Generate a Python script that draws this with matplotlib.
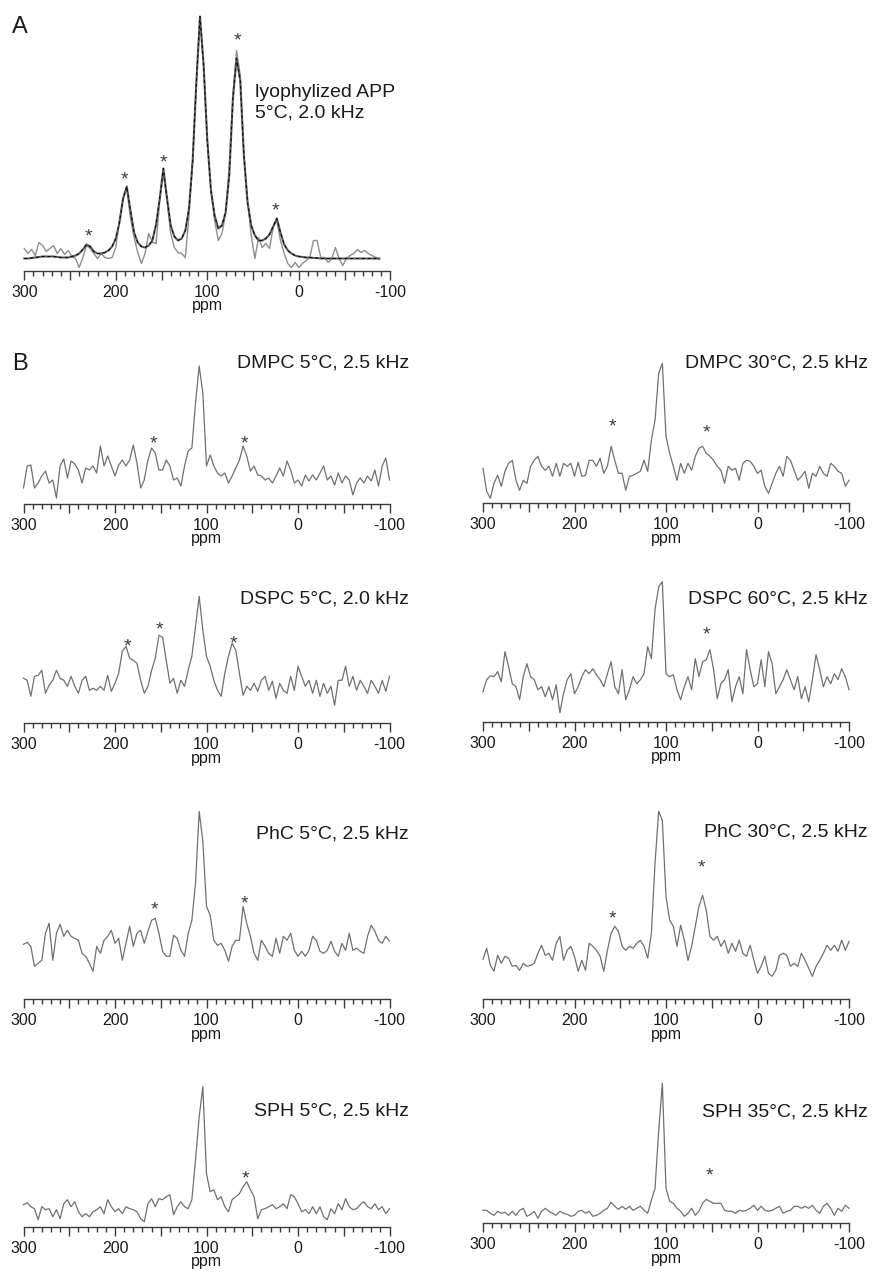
import matplotlib
matplotlib.use('Agg')
import matplotlib.pyplot as plt
from matplotlib.ticker import MultipleLocator, FuncFormatter
import numpy as np

plt.rcParams['font.family'] = ['Liberation Sans', 'DejaVu Sans']
plt.rcParams['axes.unicode_minus'] = False

W, H = 872, 1272  # figure size in pixels (dpi 100)

# chemical shift grids (ppm), 4 ppm spacing
ppm_a = np.arange(300, -89, -4)
ppm_b = np.arange(300, -101, -4)

# --- A: lyophylized APP, experimental spectrum and spinning-sideband fit ---
app_exp = [22, 17, 21, 15, 28, 25, 19, 22, 25, 17,
           22, 16, 20, 14, 12, 3, 13, 25, 22, 17,
           12, 17, 13, 12, 13, 23, 50, 73, 82, 53,
           33, 18, 7, 17, 37, 28, 27, 70, 98, 70,
           37, 23, 18, 17, 13, 55, 110, 185, 253, 205,
           130, 80, 50, 30, 37, 57, 105, 175, 220, 195,
           115, 70, 35, 12, 33, 23, 27, 22, 43, 50,
           30, 17, 7, 3, 8, 3, 7, 10, 13, 30,
           30, 13, 13, 8, 12, 23, 12, 5, 12, 15,
           17, 21, 18, 20, 17, 15, 13, 11]
app_fit = [12, 12, 12.5, 13, 13.5, 14, 14, 14, 14, 13.5,
           13, 13, 13, 14, 15, 17, 21, 26, 24, 19,
           17, 17, 18, 20, 24, 32, 48, 72, 84, 60,
           38, 28, 24, 23, 25, 30, 46, 72, 102, 72,
           45, 34, 30, 32, 40, 62, 110, 188, 254, 205,
           130, 80, 55, 42, 45, 58, 95, 172, 212, 190,
           115, 68, 45, 35, 30, 30, 32, 36, 44, 52,
           38, 26, 20, 17, 15, 14, 13.5, 13, 13, 12.5,
           12.5, 12, 12, 12, 12, 12, 12, 12, 12, 12,
           12, 12, 12, 12, 12, 12, 12, 12]
app_star_ppm = [230, 190, 148, 67, 25]
app_star_h = [40, 97, 114, 236, 66]

# --- B: APP in lipid vesicles ---
dmpc5 = [16, 38, 39, 16, 21, 28, 33, 21, 24, 6,
         38, 45, 26, 43, 40, 34, 21, 36, 34, 38,
         31, 58, 38, 48, 38, 28, 39, 44, 38, 44,
         59, 41, 16, 24, 44, 56, 51, 34, 34, 44,
         38, 24, 26, 18, 38, 53, 56, 101, 138, 111,
         38, 49, 38, 31, 28, 31, 21, 28, 36, 44,
         58, 48, 33, 38, 29, 28, 24, 26, 21, 28,
         36, 28, 43, 34, 21, 24, 18, 29, 23, 29,
         24, 31, 38, 24, 28, 19, 31, 21, 28, 24,
         9, 21, 26, 21, 28, 23, 34, 18, 38, 46,
         24]
dmpc30 = [35, 12, 5, 20, 28, 17, 32, 40, 43, 23,
          13, 23, 20, 37, 43, 47, 37, 33, 37, 27,
          40, 27, 40, 37, 40, 27, 41, 27, 28, 43,
          43, 37, 45, 30, 37, 57, 43, 30, 30, 13,
          27, 28, 30, 32, 43, 32, 63, 83, 130, 140,
          67, 50, 37, 23, 40, 30, 40, 33, 47, 55,
          57, 50, 47, 43, 37, 33, 20, 37, 33, 35,
          23, 40, 43, 42, 37, 30, 33, 17, 10, 20,
          30, 37, 27, 47, 43, 33, 23, 27, 32, 15,
          30, 27, 37, 30, 27, 40, 37, 32, 30, 17,
          23]
dspc5 = [45, 43, 27, 47, 48, 53, 30, 38, 43, 53,
         45, 43, 37, 47, 37, 30, 43, 47, 33, 35,
         33, 37, 33, 48, 32, 40, 50, 72, 77, 65,
         63, 60, 43, 30, 37, 53, 65, 88, 86, 63,
         40, 45, 30, 43, 37, 53, 67, 97, 127, 93,
         67, 57, 43, 33, 27, 50, 67, 80, 73, 50,
         28, 37, 33, 40, 32, 43, 47, 33, 42, 25,
         40, 33, 30, 47, 33, 57, 47, 37, 43, 30,
         43, 27, 40, 30, 37, 18, 43, 43, 57, 37,
         47, 33, 43, 37, 30, 43, 37, 30, 43, 32,
         47]
dspc60 = [30, 42, 46, 45, 50, 40, 70, 55, 38, 35,
          22, 45, 58, 45, 42, 32, 35, 25, 35, 22,
          37, 9, 28, 42, 48, 28, 35, 45, 52, 48,
          53, 47, 42, 35, 48, 60, 35, 28, 52, 22,
          32, 45, 38, 42, 48, 75, 63, 112, 135, 140,
          48, 45, 47, 32, 22, 35, 45, 32, 63, 45,
          60, 62, 72, 52, 23, 38, 42, 52, 20, 35,
          45, 28, 72, 52, 35, 38, 62, 35, 70, 58,
          28, 35, 42, 52, 42, 32, 45, 23, 35, 20,
          42, 67, 52, 35, 45, 38, 48, 42, 53, 45,
          32]
phc5 = [55, 57, 53, 33, 36, 39, 66, 76, 39, 66,
        75, 63, 69, 63, 61, 59, 46, 43, 36, 28,
        53, 46, 59, 63, 69, 56, 61, 39, 56, 73,
        53, 66, 69, 56, 68, 79, 81, 66, 48, 43,
        43, 64, 61, 49, 43, 66, 79, 116, 188, 158,
        93, 84, 59, 54, 56, 49, 38, 53, 59, 59,
        93, 76, 63, 46, 39, 59, 53, 46, 43, 61,
        46, 63, 59, 66, 49, 43, 48, 43, 49, 63,
        59, 48, 46, 49, 58, 48, 43, 56, 49, 66,
        49, 51, 48, 46, 63, 74, 68, 59, 56, 63,
        58]
phc30 = [40, 51, 34, 28, 44, 36, 43, 41, 33, 34,
         29, 36, 33, 34, 36, 46, 54, 44, 46, 39,
         56, 63, 39, 49, 53, 43, 28, 39, 29, 56,
         53, 49, 43, 28, 49, 66, 73, 68, 53, 49,
         53, 51, 56, 59, 53, 41, 66, 136, 188, 179,
         103, 79, 73, 53, 74, 59, 39, 53, 73, 93,
         104, 89, 63, 59, 63, 53, 59, 46, 56, 48,
         59, 46, 43, 54, 39, 26, 33, 43, 26, 23,
         29, 44, 46, 44, 33, 36, 33, 46, 39, 31,
         23, 33, 39, 46, 54, 49, 54, 48, 59, 49,
         58]
sph5 = [22, 24, 20, 18, 7, 20, 17, 18, 10, 17,
        8, 23, 27, 20, 25, 15, 10, 13, 10, 15,
        17, 20, 13, 27, 20, 15, 18, 13, 20, 18,
        17, 15, 8, 5, 23, 28, 20, 28, 27, 30,
        32, 12, 20, 25, 20, 18, 27, 67, 110, 140,
        53, 35, 37, 27, 30, 20, 15, 27, 30, 33,
        40, 45, 37, 30, 8, 17, 18, 20, 22, 18,
        20, 23, 18, 32, 30, 23, 15, 17, 13, 20,
        13, 20, 10, 7, 18, 13, 23, 17, 28, 20,
        17, 18, 22, 25, 20, 18, 23, 17, 20, 13,
        18]
sph35 = [13, 13, 10, 8, 12, 10, 11, 8, 12, 8,
         13, 15, 7, 9, 12, 5, 12, 15, 12, 10,
         8, 12, 10, 9, 7, 8, 12, 13, 10, 12,
         7, 8, 10, 13, 15, 21, 17, 14, 17, 14,
         17, 13, 15, 17, 13, 10, 23, 35, 92, 140,
         35, 22, 20, 15, 12, 7, 10, 15, 8, 12,
         20, 24, 22, 20, 20, 20, 13, 12, 12, 10,
         13, 12, 13, 15, 18, 13, 17, 13, 12, 13,
         15, 17, 10, 12, 13, 17, 17, 15, 17, 15,
         18, 13, 10, 17, 20, 15, 8, 15, 12, 18,
         15]

labels_b = ['DMPC 5°C, 2.5 kHz', 'DMPC 30°C, 2.5 kHz',
            'DSPC 5°C, 2.0 kHz', 'DSPC 60°C, 2.5 kHz',
            'PhC 5°C, 2.5 kHz', 'PhC 30°C, 2.5 kHz',
            'SPH 5°C, 2.5 kHz', 'SPH 35°C, 2.5 kHz']
spectra_b = [dmpc5, dmpc30, dspc5, dspc60, phc5, phc30, sph5, sph35]
stars_ppm_b = [[158, 58], [158, 56], [186, 151, 70], [56],
               [157, 58], [158, 61], [57], [52]]
stars_h_b = [[67, 67], [83, 77], [83, 100, 86], [93],
             [96, 102], [87, 138], [54], [54]]

# panel placement in pixels: x of the 300 ppm end, y of the axis line, title baseline
x300_b = [23.5, 483, 23.5, 483, 23.5, 483, 23.5, 483]
axis_y_b = [504, 503.3, 723.3, 721.7, 999.3, 999.3, 1226.7, 1223.3]
title_y_b = [367, 367, 603.3, 603.3, 838.3, 836.7, 1116, 1116.7]
title_x_b = [409, 867.7]

AXIS_W = 366  # axis length in px for 400 ppm
TEXT = '#1a1a1a'
AXC = '#3a3a3a'

fig = plt.figure(figsize=(W / 100, H / 100), dpi=100)
fig.patch.set_facecolor('white')


def make_axes(x300, axis_y, height):
    ax = fig.add_axes([x300 / W, (H - axis_y) / H, AXIS_W / W, height / H])
    ax.set_xlim(300, -100)
    ax.set_ylim(0, height)
    ax.patch.set_visible(False)
    for s in ('top', 'left', 'right'):
        ax.spines[s].set_visible(False)
    ax.spines['bottom'].set_color(AXC)
    ax.spines['bottom'].set_linewidth(1.0)
    ax.yaxis.set_visible(False)
    ax.xaxis.set_major_locator(MultipleLocator(50))
    ax.xaxis.set_minor_locator(MultipleLocator(10))
    ax.xaxis.set_major_formatter(
        FuncFormatter(lambda v, p: f'{round(v)}' if round(v) % 100 == 0 else ''))
    ax.tick_params(axis='x', which='major', length=6.2, width=1.0, color=AXC,
                   labelsize=11.5, pad=4.0, labelcolor=TEXT)
    ax.tick_params(axis='x', which='minor', length=3.8, width=1.0, color=AXC)
    ax.text(100, -39.5, 'ppm', ha='center', va='baseline', fontsize=11.5, color=TEXT)
    return ax


def add_stars(ax, ppms, hs, color='#3c3c3c'):
    for p, h in zip(ppms, hs):
        # the asterisk glyph sits ~11 px above its baseline
        ax.text(p, h - 11, '*', ha='center', va='baseline', fontsize=14,
                color=color, clip_on=False)


# ---- panel A ----
ax_a = make_axes(24.3, 270.5, 265)
ax_a.plot(ppm_a, app_exp, color='#8e8e8e', lw=1.0, clip_on=False)
ax_a.plot(ppm_a, app_fit, color='#5a5a5a', lw=1.5, clip_on=False)
ax_a.plot(ppm_a, app_fit, color='black', lw=0.7, dashes=(3, 3), clip_on=False)
add_stars(ax_a, app_star_ppm, app_star_h)
fig.text(255 / W, 1 - 96.7 / H, 'lyophylized APP', fontsize=14, color=TEXT,
         ha='left', va='baseline')
fig.text(255 / W, 1 - 117.3 / H, '5°C, 2.0 kHz', fontsize=14, color=TEXT,
         ha='left', va='baseline')
fig.text(12 / W, 1 - 33.3 / H, 'A', fontsize=17, color=TEXT, ha='left', va='baseline')

# ---- panel B ----
fig.text(12 / W, 1 - 370 / H, 'B', fontsize=17, color=TEXT, ha='left', va='baseline')
for i, (spec, label) in enumerate(zip(spectra_b, labels_b)):
    ax = make_axes(x300_b[i], axis_y_b[i], 160)
    ax.plot(ppm_b, spec, color='#707070', lw=0.9, clip_on=False)
    add_stars(ax, stars_ppm_b[i], stars_h_b[i])
    fig.text(title_x_b[i % 2] / W, 1 - title_y_b[i] / H, label, fontsize=14,
             color=TEXT, ha='right', va='baseline')

fig.savefig('out.png', dpi=100, facecolor='white')
